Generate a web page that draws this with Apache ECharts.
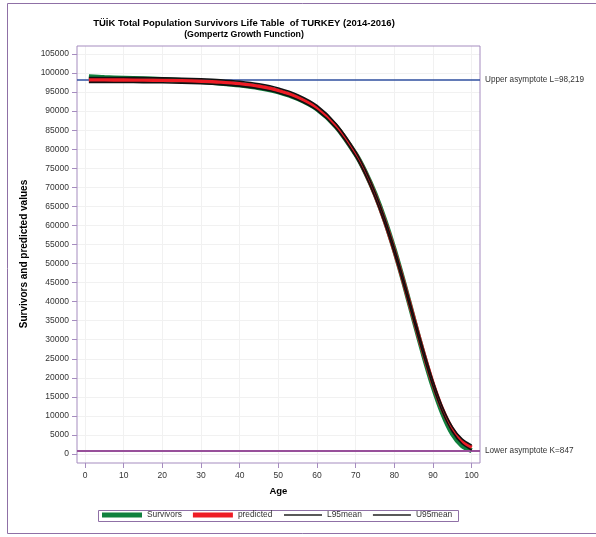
<!DOCTYPE html>
<html>
<head>
<meta charset="utf-8">
<script src="https://cdn.jsdelivr.net/npm/echarts@6/dist/echarts.min.js"></script>
<style>
html,body{margin:0;padding:0;background:#fff;}
#chart{width:596px;height:537px;}
</style>
</head>
<body>
<div id="chart"></div>
<script>
// ---- data ----
const ages = [1, 5, 10, 15, 20, 25, 30, 35, 40, 45, 50, 55, 60, 65, 70, 72.5, 75, 77.5, 80, 82.5, 85, 87.5, 90, 92.5, 95, 97.5, 100];
const survivors = [99000, 98800, 98650, 98500, 98300, 98050, 97750, 97350, 96850, 96150, 95050, 93300, 90550, 85900, 78700, 74000, 68300, 61500, 53600, 44800, 35400, 26200, 17700, 10600, 5300, 2200, 900];
const predicted = [98200, 98190, 98172, 98139, 98087, 97998, 97852, 97610, 97206, 96537, 95437, 93656, 90842, 86010, 78745, 73915, 68053, 61198, 53361, 44752, 35686, 26690, 18423, 11538, 6475, 3308, 1693];
const l95mean = [97550, 97540, 97520, 97490, 97440, 97350, 97200, 96960, 96560, 95890, 94790, 93010, 90200, 85370, 78100, 73270, 67400, 60550, 52710, 44100, 35040, 26040, 17780, 10900, 5830, 2680, 1050];
const u95mean = [98850, 98840, 98820, 98790, 98730, 98650, 98500, 98260, 97850, 97180, 96080, 94300, 91480, 86650, 79390, 74560, 68700, 61840, 54010, 45400, 36330, 27340, 19070, 12180, 7120, 3950, 2340];
const upperAsymptote = 98219;
const lowerAsymptote = 847;
const upperLabel = 'Upper asymptote L=98,219';
const lowerLabel = 'Lower asymptote K=847';
const titleText = 'TÜİK Total Population Survivors Life Table  of TURKEY (2014-2016)';
const subTitleText = '(Gompertz Growth Function)';
const xName = 'Age';
const yName = 'Survivors and predicted values';

const FONT = "'Liberation Sans', Arial, sans-serif";
const pair = (xs, ys) => xs.map((x, i) => [x, ys[i]]);

const chart = echarts.init(document.getElementById('chart'), null, {renderer: 'canvas'});
const purple = '#a58cbf';

const option = {
  backgroundColor: '#fff',
  animation: false,
  title: [{
    text: titleText,
    subtext: subTitleText,
    left: 244, top: 18, padding: 0, itemGap: 2,
    textAlign: 'center',
    textStyle: {fontFamily: FONT, fontSize: 9.5, fontWeight: 'bold', color: '#000', lineHeight: 10},
    subtextStyle: {fontFamily: FONT, fontSize: 8.8, fontWeight: 'bold', color: '#000', lineHeight: 10}
  }],
  grid: [
    {left: 77, top: 46, width: 403, height: 417, show: true, borderColor: purple, borderWidth: 1, backgroundColor: 'transparent', z: 3},
    {left: 77, top: 54, width: 403, height: 400},
    {left: 85, top: 46, width: 386.7, height: 417}
  ],
  xAxis: [
    {gridIndex: 0, type: 'value', min: -2.07, max: 102.15, show: false},
    {gridIndex: 1, type: 'value', min: 0, max: 1, show: false},
    {gridIndex: 2, type: 'value', min: 0, max: 100, interval: 10, position: 'bottom',
      name: xName, nameLocation: 'middle', nameGap: 23,
      nameTextStyle: {fontFamily: FONT, fontSize: 9.5, fontWeight: 'bold', color: '#000'},
      axisLine: {show: false},
      axisTick: {show: true, length: 5, lineStyle: {color: purple}},
      axisLabel: {fontFamily: FONT, fontSize: 8.5, color: '#333', margin: 8, formatter: v => String(v)},
      splitLine: {show: true, lineStyle: {color: '#f1f1f1', width: 1}}
    }
  ],
  yAxis: [
    {gridIndex: 0, type: 'value', min: -2362.5, max: 107100, show: false},
    {gridIndex: 1, type: 'value', min: 0, max: 105000, interval: 5000, position: 'left',
      name: yName, nameLocation: 'middle', nameGap: 47,
      nameTextStyle: {fontFamily: FONT, fontSize: 10, fontWeight: 'bold', color: '#000'},
      axisLine: {show: false},
      axisTick: {show: true, length: 5, lineStyle: {color: purple}},
      axisLabel: {fontFamily: FONT, fontSize: 8.5, color: '#333', margin: 8, formatter: v => String(v)},
      splitLine: {show: true, lineStyle: {color: '#f1f1f1', width: 1}}
    },
    {gridIndex: 2, type: 'value', min: 0, max: 1, show: false}
  ],
  legend: [
    {data: [
      {name: 'Survivors', icon: 'rect', itemStyle: {color: '#10803e'}},
      {name: 'predicted', icon: 'rect', itemStyle: {color: '#ee1c25'}}
    ], left: 102, top: 511, padding: 0, itemWidth: 40, itemHeight: 5, itemGap: 11,
      textStyle: {fontFamily: FONT, fontSize: 8.4, color: '#333'}, selectedMode: false},
    {data: [
      {name: 'L95mean', icon: 'rect', itemStyle: {color: '#222'}},
      {name: 'U95mean', icon: 'rect', itemStyle: {color: '#222'}}
    ], left: 284, top: 511, padding: 0, itemWidth: 38, itemHeight: 1.5, itemGap: 11,
      textStyle: {fontFamily: FONT, fontSize: 8.4, color: '#333'}, selectedMode: false}
  ],
  graphic: [
    {type: 'rect', shape: {x: 7.5, y: 3.5, width: 620, height: 530}, style: {fill: 'none', stroke: '#8f70a6', lineWidth: 1}, silent: true, z: -1},
    {type: 'rect', shape: {x: 98.5, y: 510.5, width: 360, height: 11}, style: {fill: 'none', stroke: '#8f70a6', lineWidth: 1}, silent: true}
  ],
  series: [
    {name: 'asymptotes', type: 'line', xAxisIndex: 0, yAxisIndex: 0, data: [], silent: true, z: 1,
      markLine: {
        silent: true, symbol: ['none', 'none'], animation: false,
        label: {show: true, position: 'end', distance: 5, fontFamily: FONT, fontSize: 8.2, color: '#333'},
        data: [
          {yAxis: upperAsymptote, label: {formatter: upperLabel}, lineStyle: {color: '#2f4f9f', width: 1.5, type: 'solid'}},
          {yAxis: lowerAsymptote, label: {formatter: lowerLabel}, lineStyle: {color: '#98509a', width: 2, type: 'solid'}}
        ]
      }
    },
    {name: 'Survivors', type: 'line', xAxisIndex: 0, yAxisIndex: 0, data: pair(ages, survivors),
      smooth: 0.3, showSymbol: false, color: '#10803e', lineStyle: {color: '#10803e', width: 5}, z: 4},
    {name: 'predicted', type: 'line', xAxisIndex: 0, yAxisIndex: 0, data: pair(ages, predicted),
      smooth: 0.3, showSymbol: false, color: '#ee1c25', lineStyle: {color: '#ee1c25', width: 4}, z: 5},
    {name: 'L95mean', type: 'line', xAxisIndex: 0, yAxisIndex: 0, data: pair(ages, l95mean),
      smooth: 0.3, showSymbol: false, color: '#111', lineStyle: {color: '#111', width: 1.6}, z: 6},
    {name: 'U95mean', type: 'line', xAxisIndex: 0, yAxisIndex: 0, data: pair(ages, u95mean),
      smooth: 0.3, showSymbol: false, color: '#111', lineStyle: {color: '#111', width: 1.6}, z: 6}
  ]
};
chart.setOption(option);
</script>
</body>
</html>
